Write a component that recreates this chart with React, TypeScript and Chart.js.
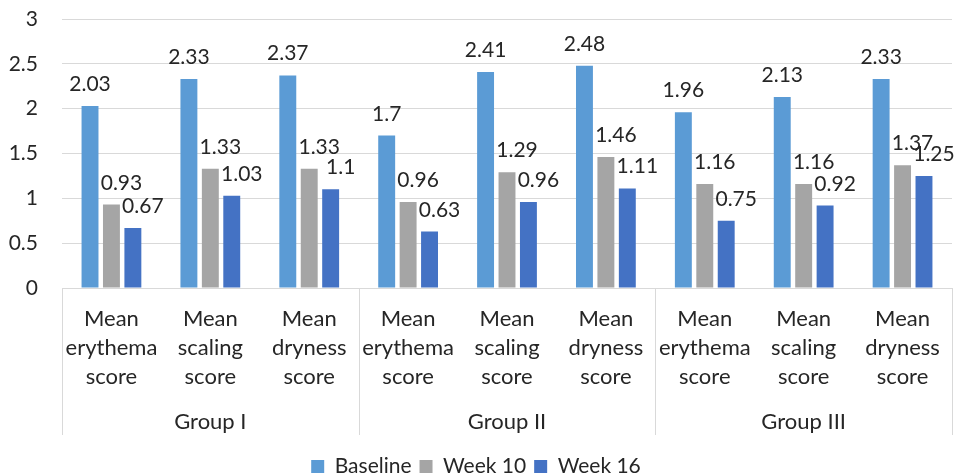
import React, { useEffect, useRef } from "react";
import { Chart, registerables } from "chart.js";

Chart.register(...registerables);

const categories: string[][] = [
  ["Mean", "erythema", "score"],
  ["Mean", "scaling", "score"],
  ["Mean", "dryness", "score"],
  ["Mean", "erythema", "score"],
  ["Mean", "scaling", "score"],
  ["Mean", "dryness", "score"],
  ["Mean", "erythema", "score"],
  ["Mean", "scaling", "score"],
  ["Mean", "dryness", "score"],
];
const groups = ["Group I", "Group II", "Group III"];
const groupSize = 3;

const baseline = [2.03, 2.33, 2.37, 1.7, 2.41, 2.48, 1.96, 2.13, 2.33];
const week10 = [0.93, 1.33, 1.33, 0.96, 1.29, 1.46, 1.16, 1.16, 1.37];
const week16 = [0.67, 1.03, 1.1, 0.63, 0.96, 1.11, 0.75, 0.92, 1.25];

const seriesNames = ["Baseline", "Week 10", "Week 16"];
const seriesColors = ["#5B9BD5", "#A5A5A5", "#4472C4"];

const FONT = "Lato";
const TEXT = "#262626";

const labelPlugin = {
  id: "valueLabels",
  afterDatasetsDraw(chart: any) {
    const ctx = chart.ctx;
    ctx.save();
    ctx.font = `21px ${FONT}`;
    ctx.fillStyle = TEXT;
    ctx.textAlign = "center";
    ctx.textBaseline = "alphabetic";
    chart.data.datasets.forEach((ds: any, di: number) => {
      const meta = chart.getDatasetMeta(di);
      meta.data.forEach((bar: any, i: number) => {
        const dx = di === 0 ? 0 : 10;
        ctx.fillText(String(ds.data[i]), bar.x + dx, bar.y - 15);
      });
    });
    ctx.restore();
  },
};

const groupAxisPlugin = {
  id: "groupAxis",
  afterDraw(chart: any) {
    const ctx = chart.ctx;
    const xs = chart.scales.x;
    const area = chart.chartArea;
    const n = categories.length;
    const w = (xs.right - xs.left) / n;
    ctx.save();
    ctx.strokeStyle = "#D9D9D9";
    ctx.lineWidth = 1;
    for (let g = 0; g <= groups.length; g++) {
      const x = Math.round(xs.left + g * groupSize * w) + 0.5;
      ctx.beginPath();
      ctx.moveTo(x, area.bottom);
      ctx.lineTo(x, area.bottom + 147);
      ctx.stroke();
    }
    ctx.font = `22px ${FONT}`;
    ctx.fillStyle = TEXT;
    ctx.textAlign = "center";
    ctx.textBaseline = "middle";
    groups.forEach((g, gi) => {
      const cx = xs.left + (gi * groupSize + groupSize / 2) * w;
      ctx.fillText(g, cx, area.bottom + 134);
    });
    ctx.restore();
  },
};

export default function App() {
  const ref = useRef<HTMLCanvasElement>(null);
  useEffect(() => {
    if (!ref.current) return;
    const chart = new Chart(ref.current, {
      type: "bar",
      data: {
        labels: categories,
        datasets: [baseline, week10, week16].map((d, i) => ({
          label: seriesNames[i],
          data: d,
          backgroundColor: seriesColors[i],
          categoryPercentage: 0.65,
          barPercentage: 0.79,
        })),
      },
      options: {
        animation: false,
        responsive: false,
        maintainAspectRatio: false,
        layout: { autoPadding: false, padding: { top: 19, right: 12, left: 0, bottom: -13 } },
        plugins: {
          legend: {
            position: "bottom",
            labels: {
              font: { family: FONT, size: 21 },
              color: TEXT,
              boxWidth: 13,
              boxHeight: 13,
              padding: 8,
            },
          },
          tooltip: { enabled: false },
        },
        scales: {
          y: {
            min: 0,
            max: 3,
            ticks: {
              stepSize: 0.5,
              font: { family: FONT, size: 21 },
              color: TEXT,
              padding: 0,
              callback: (v: any) => String(Number(v)),
            },
            grid: {
              color: "#D9D9D9",
              drawTicks: true,
              tickLength: 24,
              tickColor: "rgba(0,0,0,0)",
            },
            border: { display: false },
            afterFit: (s: any) => {
              s.width = 62;
            },
          },
          x: {
            ticks: {
              font: { family: FONT, size: 22, lineHeight: 1.32 },
              color: TEXT,
              maxRotation: 0,
              autoSkip: false,
              padding: 8,
            },
            grid: { display: false },
            border: { display: false },
            afterFit: (s: any) => {
              s.height = 160;
            },
          },
        },
      },
      plugins: [labelPlugin, groupAxisPlugin],
    });
    return () => chart.destroy();
  }, []);
  return (
    <div style={{ position: "fixed", left: 0, top: 0, width: 964, height: 474, background: "#fff" }}>
      <canvas ref={ref} width={964} height={474} style={{ width: 964, height: 474 }} />
    </div>
  );
}
